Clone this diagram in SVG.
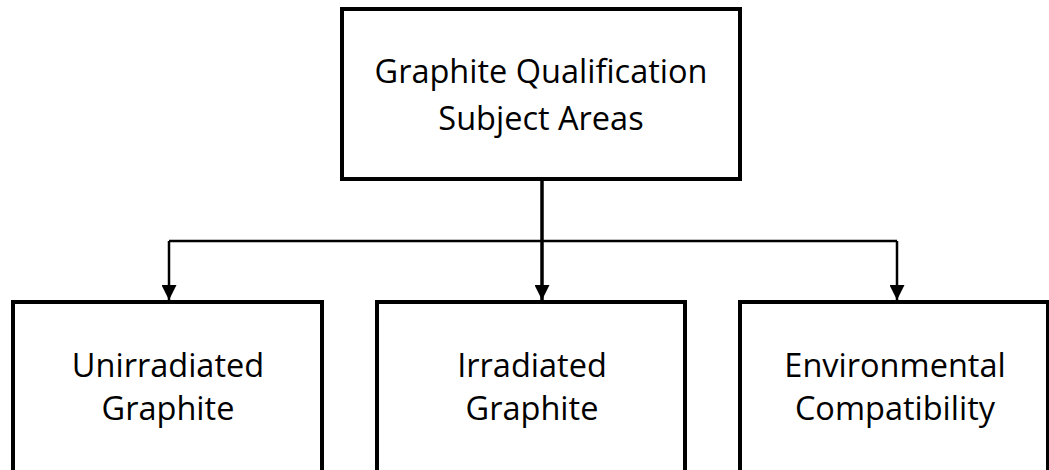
<svg xmlns="http://www.w3.org/2000/svg" width="1049" height="470" viewBox="0 0 1049 470">
  <style>
    .box { fill: #ffffff; stroke: #000000; stroke-width: 4; }
    .label { font-family: "Open Sans", "Noto Sans", "Liberation Sans", sans-serif; font-size: 32.5px; fill: #000000; text-anchor: middle; }
    .wire { fill: none; stroke: #000000; stroke-width: 2.5; }
    .trunk { fill: none; stroke: #000000; stroke-width: 3.5; }
  </style>
  <defs>
    <marker id="arrow" markerUnits="userSpaceOnUse" markerWidth="16" markerHeight="15" refX="15" refY="7.5" orient="auto">
      <path d="M0,0 L15,7.5 L0,15 Z" fill="#000000"/>
    </marker>
  </defs>
  <rect width="1049" height="470" fill="#ffffff"/>

  <!-- connectors -->
  <g id="connectors">
    <line class="trunk" x1="542" y1="179" x2="542" y2="241"/>
    <line class="wire" x1="169" y1="241" x2="897" y2="241"/>
    <line class="wire" x1="169" y1="241" x2="169" y2="300" marker-end="url(#arrow)"/>
    <line class="trunk" x1="542" y1="241" x2="542" y2="300" marker-end="url(#arrow)"/>
    <line class="wire" x1="897" y1="241" x2="897" y2="300" marker-end="url(#arrow)"/>
  </g>

  <!-- root node -->
  <g id="node-root">
    <rect class="box" x="342" y="9" width="398" height="170"/>
    <text class="label" x="541" y="83">Graphite Qualification</text>
    <text class="label" x="541" y="130">Subject Areas</text>
  </g>

  <!-- child nodes -->
  <g id="node-unirradiated">
    <rect class="box" x="13" y="302" width="309" height="190"/>
    <text class="label" x="168" y="377">Unirradiated</text>
    <text class="label" x="168" y="420">Graphite</text>
  </g>
  <g id="node-irradiated">
    <rect class="box" x="377" y="302" width="308" height="190"/>
    <text class="label" x="532" y="377">Irradiated</text>
    <text class="label" x="532" y="420">Graphite</text>
  </g>
  <g id="node-environmental">
    <rect class="box" x="740" y="302" width="308" height="190"/>
    <text class="label" x="895" y="377">Environmental</text>
    <text class="label" x="895" y="420">Compatibility</text>
  </g>
</svg>
